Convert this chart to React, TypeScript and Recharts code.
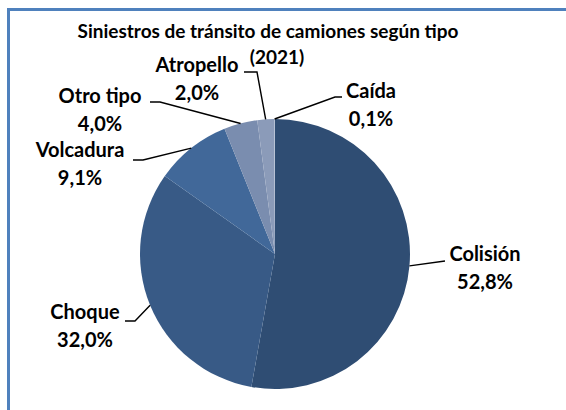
import { PieChart, Pie, Cell } from 'recharts'

const categories = ['Colisión', 'Choque', 'Volcadura', 'Otro tipo', 'Atropello', 'Caída']
const shares = [52.8, 32.0, 9.1, 4.0, 2.0, 0.1]
const sliceColors = ['#2f4d73', '#385a86', '#416899', '#7a8daf', '#8b9bb9', '#a9b6cd']

const titleLines = ['Siniestros de tránsito de camiones según tipo', '(2021)']

const data = categories.map((name, i) => ({ name, value: shares[i] }))

// where each label sits, copied from the original layout (leader line bends, then text)
const labelLayout: Record<string, { bend: [number, number]; end: [number, number]; x: number; y: number }> = {
  Colisión: { bend: [445, 261], end: [445, 261], x: 485, y: 261 },
  Choque: { bend: [135, 321], end: [125, 321], x: 85, y: 319 },
  Volcadura: { bend: [143, 160], end: [133, 160], x: 80, y: 157 },
  'Otro tipo': { bend: [160, 102], end: [150, 102], x: 100, y: 103 },
  Atropello: { bend: [257, 72], end: [244, 72], x: 197, y: 72 },
  Caída: { bend: [335, 97], end: [342, 97], x: 371, y: 98 },
}

const RAD = Math.PI / 180
const FONT = 'Lato, "Open Sans", sans-serif'

function fmt(v: number) {
  return v.toFixed(1).replace('.', ',') + '%'
}

function renderLabel(props: any) {
  const { cx, cy, midAngle, outerRadius, name, value } = props
  const pos = labelLayout[name]
  if (!pos) return null
  const ex = cx + outerRadius * Math.cos(-midAngle * RAD)
  const ey = cy + outerRadius * Math.sin(-midAngle * RAD)
  const pts = `${ex},${ey} ${pos.bend[0]},${pos.bend[1]} ${pos.end[0]},${pos.end[1]}`
  return (
    <g key={name}>
      <polyline points={pts} fill="none" stroke="#000" strokeWidth={1.4} />
      <text
        x={pos.x}
        y={pos.y}
        textAnchor="middle"
        fontFamily={FONT}
        fontWeight={700}
        fontSize={20}
        fill="#000"
      >
        {name}
      </text>
      <text
        x={pos.x}
        y={pos.y + 28}
        textAnchor="middle"
        fontFamily={FONT}
        fontWeight={700}
        fontSize={20}
        fill="#000"
      >
        {fmt(value)}
      </text>
    </g>
  )
}

const titleStyle = {
  position: 'absolute' as const,
  left: 0,
  textAlign: 'center' as const,
  fontFamily: FONT,
  fontWeight: 700,
  fontSize: 19,
  lineHeight: '25px',
  color: '#000',
  whiteSpace: 'nowrap' as const,
}

export default function App() {
  return (
    <div
      style={{
        position: 'absolute',
        left: 0,
        top: 0,
        width: 566,
        height: 410,
        overflow: 'hidden',
        background: '#fff',
      }}
    >
      <div
        style={{
          position: 'absolute',
          left: 7,
          top: 8,
          width: 620,
          height: 460,
          borderTop: '3px solid #4f81bd',
          borderLeft: '3px solid #4f81bd',
        }}
      />
      <div style={{ ...titleStyle, top: 18, width: 536 }}>{titleLines[0]}</div>
      <div style={{ ...titleStyle, top: 44, width: 554 }}>{titleLines[1]}</div>
      <div style={{ position: 'absolute', left: 0, top: 0 }}>
        <PieChart width={566} height={410} margin={{ top: 0, right: 0, bottom: 0, left: 0 }}>
          <Pie
            data={data}
            dataKey="value"
            nameKey="name"
            cx={275}
            cy={254}
            outerRadius={135}
            startAngle={90}
            endAngle={-270}
            stroke="none"
            labelLine={false}
            label={renderLabel}
            isAnimationActive={false}
          >
            {data.map((d, i) => (
              <Cell key={d.name} fill={sliceColors[i]} />
            ))}
          </Pie>
        </PieChart>
      </div>
    </div>
  )
}
